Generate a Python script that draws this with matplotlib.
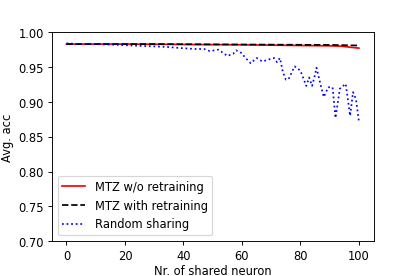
import matplotlib
matplotlib.use('Agg')
import matplotlib.pyplot as plt

# shared neurons
x_mtz = [0, 10, 20, 30, 40, 50, 60, 70, 80, 90, 94, 97, 100]
acc_no_retrain = [0.983, 0.983, 0.983, 0.9828, 0.9825, 0.9822, 0.982, 0.9815, 0.981, 0.9805, 0.980, 0.9785, 0.9772]
acc_retrain = [0.983, 0.983, 0.983, 0.983, 0.9828, 0.9826, 0.9824, 0.9822, 0.982, 0.9818, 0.9815, 0.9812, 0.981]

x_rand = [0, 5, 10, 17, 22, 28, 34, 40, 44, 47, 49, 52, 55, 57, 58, 60, 61, 63, 65, 67, 70,
          71, 72, 73, 74, 75, 76, 78, 80, 82, 83, 84, 85, 85.5, 87, 88, 89.5, 91, 92, 93.5,
          95.5, 97, 98, 99, 100]
acc_rand = [0.984, 0.983, 0.983, 0.982, 0.981, 0.980, 0.979, 0.977, 0.976, 0.976, 0.973, 0.975,
            0.966, 0.969, 0.974, 0.970, 0.964, 0.9555, 0.963, 0.958, 0.962, 0.963, 0.957, 0.963,
            0.943, 0.932, 0.933, 0.951, 0.945, 0.923, 0.935, 0.923, 0.939, 0.949, 0.923, 0.907,
            0.921, 0.921, 0.877, 0.919, 0.926, 0.880, 0.914, 0.904, 0.872]

w = 5.0
fig = plt.figure(figsize=(w, w / 1.5), dpi=415 / w)
plt.subplots_adjust(left=0.125, right=0.9, bottom=0.126, top=0.881)
plt.plot(x_mtz, acc_no_retrain, 'r-', label='MTZ w/o retraining')
plt.plot(x_mtz, acc_retrain, 'k--', label='MTZ with retraining')
plt.plot(x_rand, acc_rand, 'b:', label='Random sharing')
plt.ylim(0.70, 1.00)
plt.xlabel('Nr. of shared neuron', labelpad=2)
plt.ylabel('Avg. acc')
plt.legend(loc='lower left')
plt.savefig('out.png', dpi=415 / w)
